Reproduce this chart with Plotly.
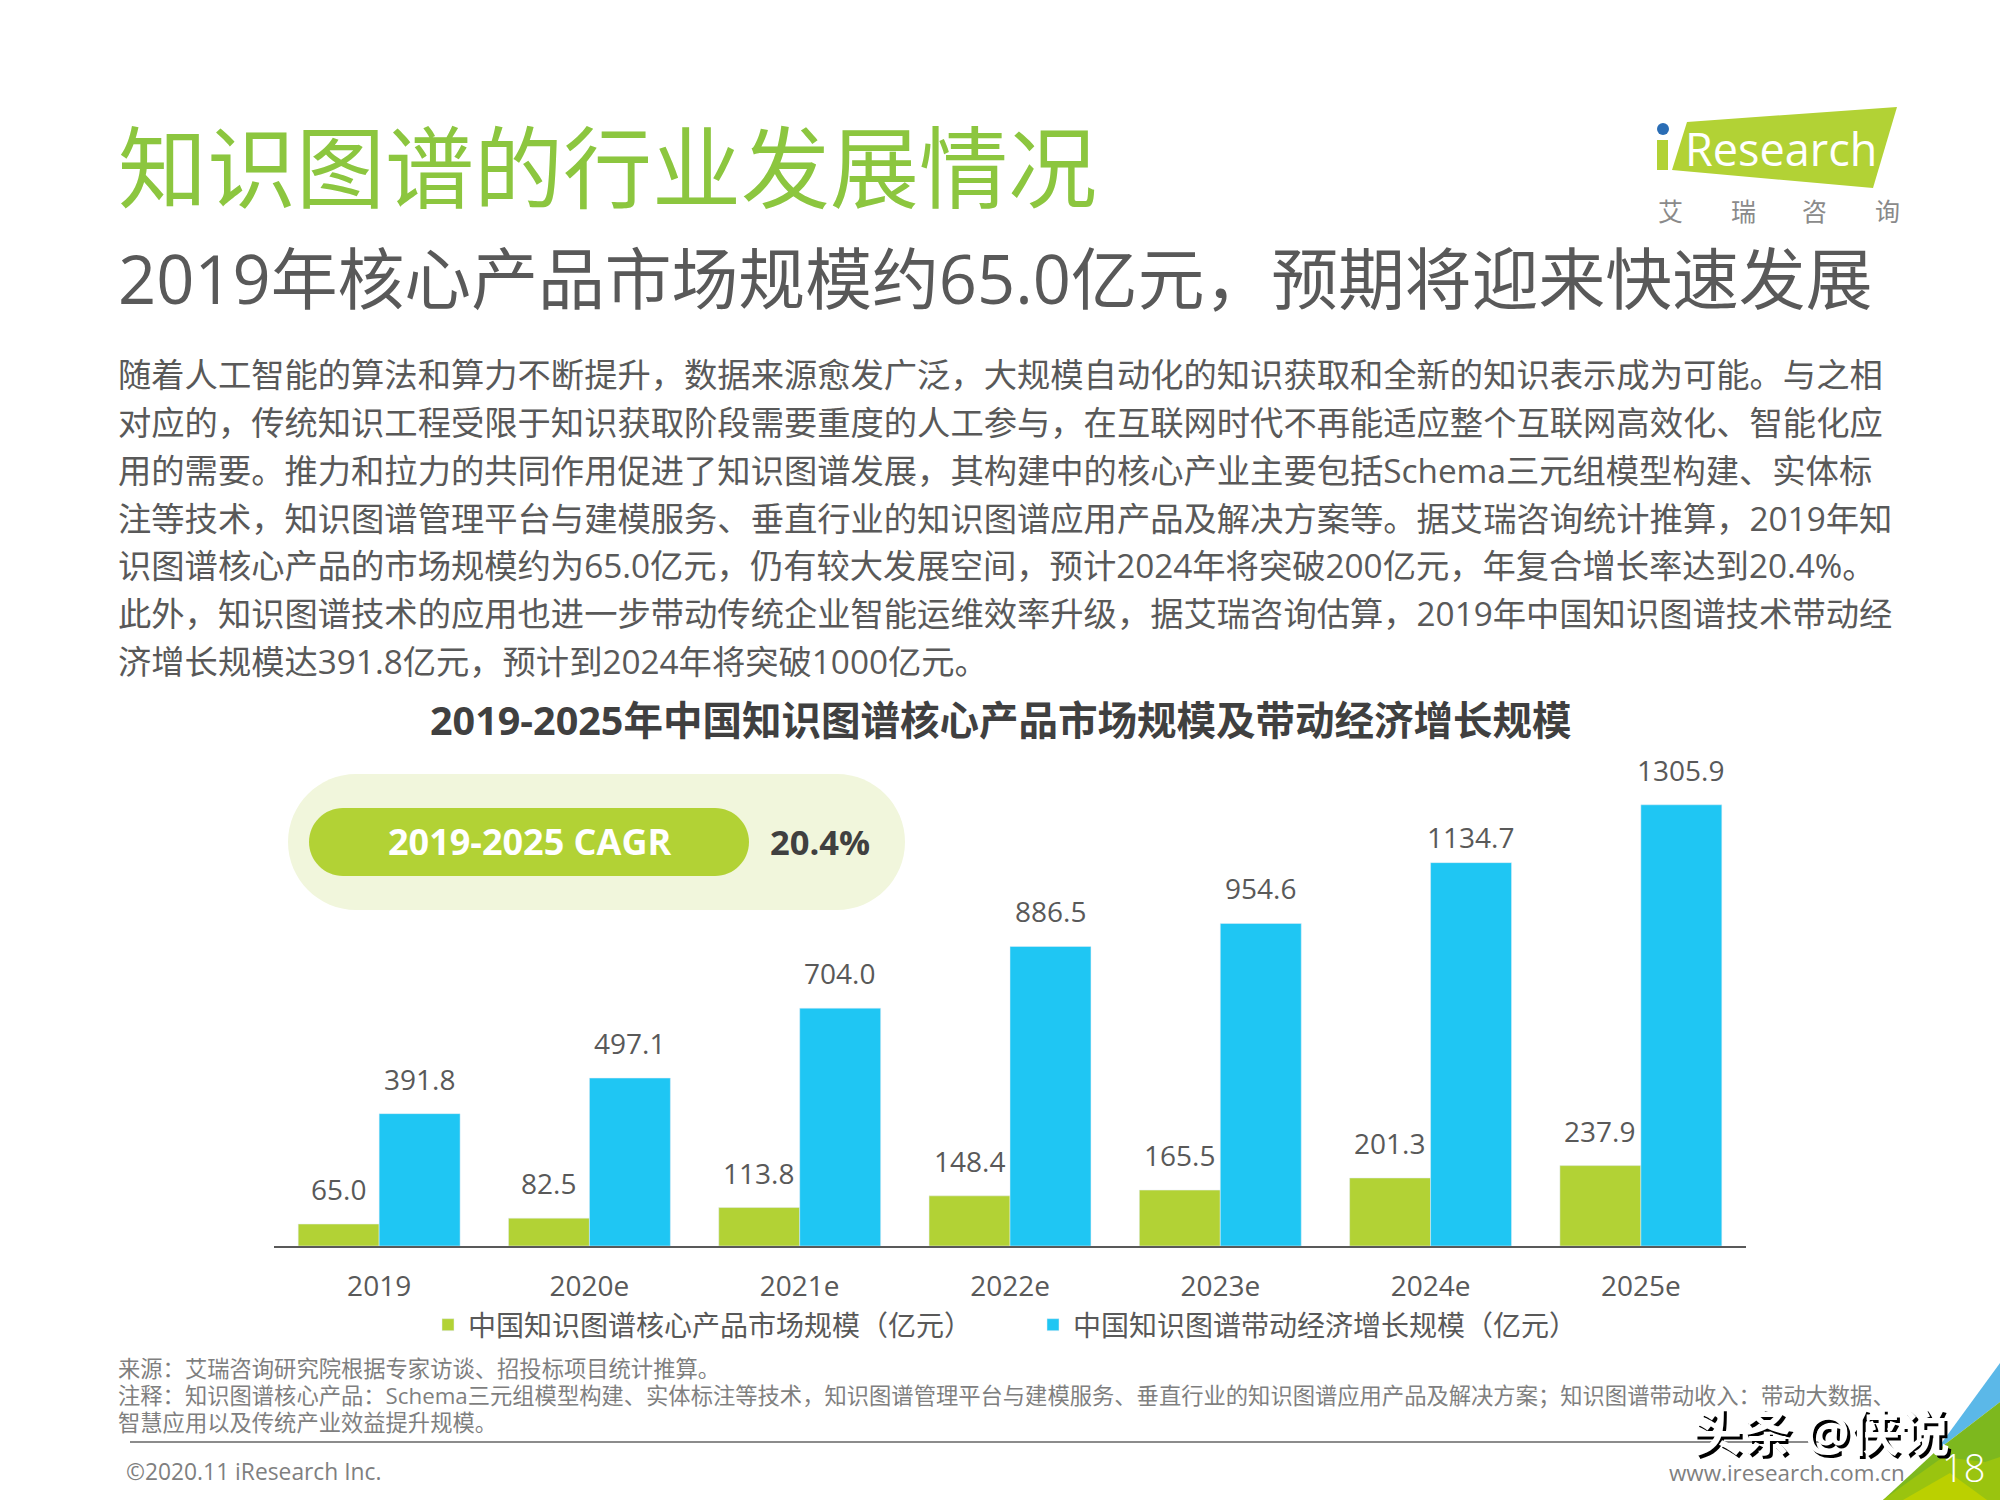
import plotly.graph_objects as go

W, H = 2000, 1500

years = ["2019", "2020e", "2021e", "2022e", "2023e", "2024e", "2025e"]
core_market = [65.0, 82.5, 113.8, 148.4, 165.5, 201.3, 237.9]
driven_growth = [391.8, 497.1, 704.0, 886.5, 954.6, 1134.7, 1305.9]
series_names = ["中国知识图谱核心产品市场规模（亿元）", "中国知识图谱带动经济增长规模（亿元）"]

title = "知识图谱的行业发展情况"
subtitle = "2019年核心产品市场规模约65.0亿元，预期将迎来快速发展"
chart_title = "2019-2025年中国知识图谱核心产品市场规模及带动经济增长规模"
body_lines = [
    "随着人工智能的算法和算力不断提升，数据来源愈发广泛，大规模自动化的知识获取和全新的知识表示成为可能。与之相",
    "对应的，传统知识工程受限于知识获取阶段需要重度的人工参与，在互联网时代不再能适应整个互联网高效化、智能化应",
    "用的需要。推力和拉力的共同作用促进了知识图谱发展，其构建中的核心产业主要包括Schema三元组模型构建、实体标",
    "注等技术，知识图谱管理平台与建模服务、垂直行业的知识图谱应用产品及解决方案等。据艾瑞咨询统计推算，2019年知",
    "识图谱核心产品的市场规模约为65.0亿元，仍有较大发展空间，预计2024年将突破200亿元，年复合增长率达到20.4%。",
    "此外，知识图谱技术的应用也进一步带动传统企业智能运维效率升级，据艾瑞咨询估算，2019年中国知识图谱技术带动经",
    "济增长规模达391.8亿元，预计到2024年将突破1000亿元。",
]
note_lines = [
    "来源：艾瑞咨询研究院根据专家访谈、招投标项目统计推算。",
    "注释：知识图谱核心产品：Schema三元组模型构建、实体标注等技术，知识图谱管理平台与建模服务、垂直行业的知识图谱应用产品及解决方案；知识图谱带动收入：带动大数据、",
    "智慧应用以及传统产业效益提升规模。",
]

FONT = "Open Sans, Noto Sans CJK SC"
LIME = "#B2D235"
BLUE = "#1FC6F3"
DARK = "#595959"
NOTE = "#7F7F7F"


# page pixels to paper coordinates
def px(x):
    return x / W


def py(y):
    return 1 - y / H


def poly(points, color):
    d = "M" + " L".join(f"{px(x)},{py(y)}" for x, y in points) + " Z"
    return dict(type="path", xref="paper", yref="paper", path=d,
                fillcolor=color, line_width=0, layer="below")


def pill(x0, x1, y0, y1, color):
    r = (y1 - y0) / 2
    k = r * 0.45
    d = (f"M{px(x0 + r)},{py(y0)} L{px(x1 - r)},{py(y0)} "
         f"C{px(x1 - k)},{py(y0)} {px(x1)},{py(y0 + k)} {px(x1)},{py(y0 + r)} "
         f"C{px(x1)},{py(y1 - k)} {px(x1 - k)},{py(y1)} {px(x1 - r)},{py(y1)} "
         f"L{px(x0 + r)},{py(y1)} "
         f"C{px(x0 + k)},{py(y1)} {px(x0)},{py(y1 - k)} {px(x0)},{py(y0 + r)} "
         f"C{px(x0)},{py(y0 + k)} {px(x0 + k)},{py(y0)} {px(x0 + r)},{py(y0)} Z")
    return dict(type="path", xref="paper", yref="paper", path=d,
                fillcolor=color, line_width=0, layer="below")


def label(text, x, y, size, color, anchor="left", weight=None):
    fig.add_annotation(text=text, xref="paper", yref="paper", x=px(x), y=py(y),
                       xanchor=anchor, yanchor="middle", showarrow=False,
                       font=dict(family=FONT, size=size, color=color, weight=weight))


fig = go.Figure()
fig.add_bar(x=years, y=core_market, name=series_names[0], marker_color=LIME)
fig.add_bar(x=years, y=driven_growth, name=series_names[1], marker_color=BLUE)

fig.update_layout(
    width=W, height=H, margin=dict(l=0, r=0, t=0, b=0),
    paper_bgcolor="white", plot_bgcolor="white",
    barmode="group", bargap=0.23, bargroupgap=0,
    font=dict(family=FONT, color=DARK),
    legend=dict(orientation="h", x=px(428), y=py(1325), xanchor="left", yanchor="middle",
                font=dict(size=28, color=DARK), entrywidth=560, itemclick=False),
    xaxis=dict(type="category", categoryorder="array", categoryarray=years, range=[-0.5, 6.5],
               domain=[px(274), px(1746)], showline=True, linecolor=DARK, linewidth=2,
               ticks="", tickfont=dict(size=28, color=DARK), ticklabelstandoff=14,
               showgrid=False, zeroline=False),
    yaxis=dict(domain=[py(1246), py(773)], range=[0, 1400], visible=False, showgrid=False),
)

# value labels sit well above the bars in the original
# (annotation x is the category index, "2019" would be read as a position)
for vals, shift in ((core_market, -41), (driven_growth, 40)):
    for i, val in enumerate(vals):
        # the 2024 blue label is placed lower in the original
        lift = 5 if val == 1134.7 else 14
        fig.add_annotation(x=i, y=val, text=f"{val:.1f}", showarrow=False, xshift=shift,
                           yshift=lift, yanchor="bottom", font=dict(size=28, color=DARK, family=FONT))

label(title, 116, 166, 89, "#8CC63F")
label(subtitle, 116, 279, 66.8, DARK)
for line, y in zip(body_lines, [374, 422, 470, 518, 565, 613, 661]):
    label(line, 116, y, 33.3, DARK)
label(chart_title, 1001, 720, 39.5, "#404040", anchor="center", weight=700)

# CAGR badge
shapes = [pill(288, 905, 774, 910, "#F1F6DC"), pill(309, 749, 808, 876, LIME)]
label("2019-2025 CAGR", 529, 841, 36, "white", anchor="center", weight=700)
label("20.4%", 820, 841, 34.5, "#404040", anchor="center", weight=700)

# footer
for line, y in zip(note_lines, [1368, 1395, 1422]):
    label(line, 116, y, 22.3, NOTE)
shapes.append(dict(type="line", xref="paper", yref="paper", x0=px(130), x1=px(1840),
                   y0=py(1442), y1=py(1442), line=dict(color="#8C8C8C", width=2)))
label("©2020.11 iResearch Inc.", 124, 1471, 22.8, NOTE)
label("www.iresearch.com.cn", 1667, 1472, 22.4, NOTE)

# corner triangles and page number
shapes.append(poly([(2000, 1363), (1935, 1452), (2000, 1402)], "#5BB8E8"))
shapes.append(poly([(2000, 1402), (1935, 1452), (1883, 1500), (2000, 1500)], "#7DB81E"))
shapes.append(poly([(1883, 1500), (1943, 1457), (1985, 1462), (2000, 1457), (2000, 1500)], "#9AC40F"))
shapes.append(poly([(1903, 1500), (1950, 1473), (1987, 1500)], "#BBD000"))
label("18", 1963, 1467, 38, "white", anchor="center", weight=300)

# watermark
label("头条 @侠说", 1824, 1435, 50, "black", anchor="center", weight=700)
label("头条 @侠说", 1821, 1432, 50, "white", anchor="center", weight=700)

# logo
shapes.append(poly([(1897, 107), (1687, 122), (1672, 170), (1873, 188)], LIME))
shapes.append(poly([(1657, 140), (1668, 140), (1668, 170), (1657, 170)], LIME))
shapes.append(dict(type="circle", xref="paper", yref="paper", x0=px(1657), x1=px(1669),
                   y0=py(135), y1=py(123), fillcolor="#2A6DB5", line_width=0))
label("Research", 1781, 148, 45, "white", anchor="center")
for ch, x in zip("艾瑞咨询", [1670, 1743, 1814, 1887]):
    label(ch, x, 211, 25, "#8A8A8A", anchor="center")

fig.update_layout(shapes=shapes)
fig.write_html("out.html", config={"displayModeBar": False},
               post_script="document.body.style.margin='0'")
